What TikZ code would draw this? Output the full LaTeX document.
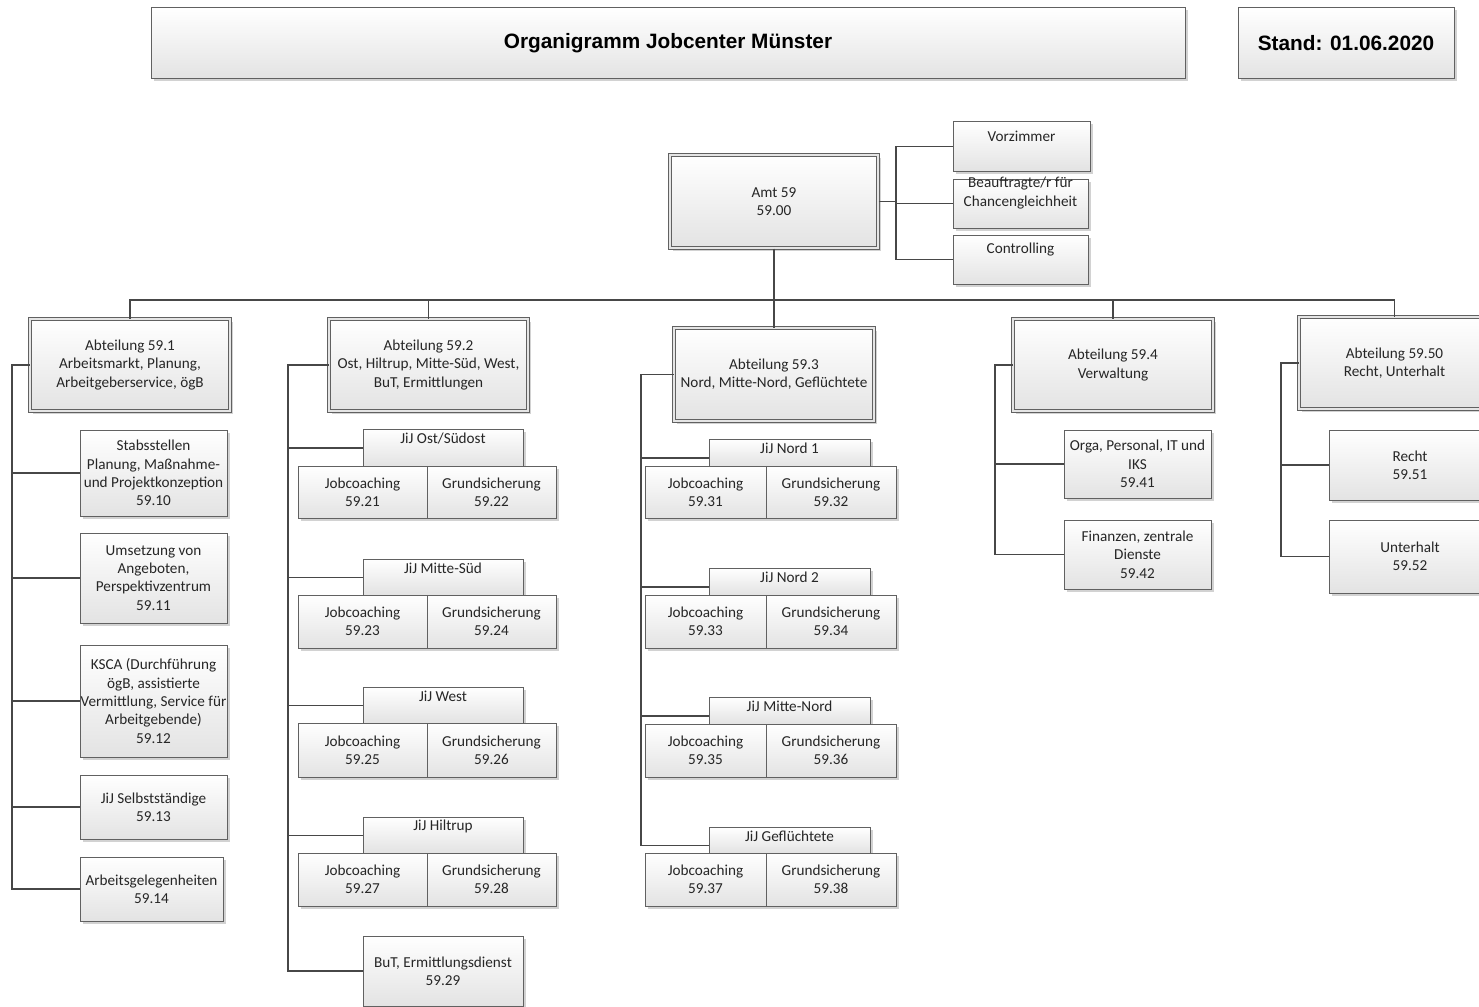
\documentclass[tikz,border=0pt]{standalone}
\usepackage{fontspec}
\setmainfont{Carlito}
\newfontfamily\titlefont{Liberation Sans}
\usetikzlibrary{shadows}
\tikzset{
  bx/.style={draw=black!62, line width=1pt, top color=white, bottom color=black!11,
    inner sep=0pt, align=center, text=black!85, font=\fontsize{15.2}{18.3}\selectfont,
    drop shadow={shadow xshift=2.5pt, shadow yshift=-2.5pt, fill=black!22, opacity=0.8}},
  dbx/.style={bx, double=black!10, double distance=2.6pt, line width=1pt},
  ttl/.style={bx, font=\titlefont\bfseries\fontsize{20.8}{24}\selectfont, text=black},
  txt/.style={inner sep=0pt, align=center, text=black!85, font=\fontsize{15.2}{18.3}\selectfont},
  conn/.style={draw=black!72, line width=1.5pt}
}
% box from (x1,y1) to (x2,y2)
\newcommand\obox[7][bx]{\node[#1, minimum width={#5-#3}, minimum height={#6-#4}] (#2) at ({(#3+#5)/2},{(#4+#6)/2}) {#7};}
\begin{document}
\begin{tikzpicture}[x=1pt,y=-1pt]
\clip (0,0) rectangle (1479,1006);
\fill[white] (0,0) rectangle (1479,1006);

% header
\obox[ttl]{title}{151}{8}{1185}{79}{Organigramm Jobcenter Münster}
\obox[ttl]{stand}{1238}{8}{1454}{79}{Stand: 01.06.2020}

% Amt
\obox[dbx]{amt}{670}{155}{878}{248}{Amt 59\\59.00}
\obox{vor}{953}{122}{1090}{171}{}
\node[txt] at ([yshift=-15pt]vor.north) {Vorzimmer};
\obox{bea}{953}{179}{1088}{228}{}
\node[txt] at ([yshift=-14.5pt]bea.north) {Beauftragte/r für\\Chancengleichheit};
\obox{con}{953}{235}{1088}{284}{}
\node[txt] at ([yshift=-15pt]con.north) {Controlling};

% Abteilungen
\obox[dbx]{a1}{30}{319}{230}{411}{Abteilung 59.1\\Arbeitsmarkt, Planung,\\Arbeitgeberservice, ögB}
\obox[dbx]{a2}{329}{319}{528}{411}{Abteilung 59.2\\Ost, Hiltrup, Mitte-Süd, West,\\BuT, Ermittlungen}
\obox[dbx]{a3}{674}{328}{874}{421}{Abteilung 59.3\\Nord, Mitte-Nord, Geflüchtete}
\obox[dbx]{a4}{1013}{319}{1213}{411}{Abteilung 59.4\\Verwaltung}
\obox[dbx]{a50}{1299}{317}{1490}{409}{Abteilung 59.50\\Recht, Unterhalt}

% 59.1
\obox{s10}{80}{430}{227}{516}{Stabsstellen\\Planung, Maßnahme-\\und Projektkonzeption\\59.10}
\obox{s11}{80}{533}{227}{623}{Umsetzung von\\Angeboten,\\Perspektivzentrum\\59.11}
\obox{s12}{80}{645}{227}{757}{KSCA (Durchführung\\ögB, assistierte\\Vermittlung, Service für\\Arbeitgebende)\\59.12}
\obox{s13}{80}{775}{227}{839}{JiJ Selbstständige\\59.13}
\obox{s14}{80}{857}{223}{921}{Arbeitsgelegenheiten\\59.14}

% 59.2
\obox{g21}{363}{429}{523}{466}{}
\node[txt] at ([yshift=-10pt]g21.north) {JiJ Ost/Südost};
\obox{j21}{298}{466}{427}{518}{Jobcoaching\\59.21}
\obox{j22}{427}{466}{556}{518}{Grundsicherung\\59.22}

\obox{g23}{363}{559}{523}{595}{}
\node[txt] at ([yshift=-10pt]g23.north) {JiJ Mitte-Süd};
\obox{j23}{298}{595}{427}{648}{Jobcoaching\\59.23}
\obox{j24}{427}{595}{556}{648}{Grundsicherung\\59.24}

\obox{g25}{363}{687}{523}{723}{}
\node[txt] at ([yshift=-10pt]g25.north) {JiJ West};
\obox{j25}{298}{723}{427}{777}{Jobcoaching\\59.25}
\obox{j26}{427}{723}{556}{777}{Grundsicherung\\59.26}

\obox{g27}{363}{817}{523}{853}{}
\node[txt] at ([yshift=-10pt]g27.north) {JiJ Hiltrup};
\obox{j27}{298}{853}{427}{906}{Jobcoaching\\59.27}
\obox{j28}{427}{853}{556}{906}{Grundsicherung\\59.28}

\obox{but}{363}{936}{523}{1006}{BuT, Ermittlungsdienst\\59.29}

% 59.3
\obox{g31}{709}{439}{870}{466}{}
\node[txt] at ([yshift=-10pt]g31.north) {JiJ Nord 1};
\obox{j31}{645}{466}{766}{518}{Jobcoaching\\59.31}
\obox{j32}{766}{466}{896}{518}{Grundsicherung\\59.32}

\obox{g33}{709}{568}{870}{595}{}
\node[txt] at ([yshift=-10pt]g33.north) {JiJ Nord 2};
\obox{j33}{645}{595}{766}{648}{Jobcoaching\\59.33}
\obox{j34}{766}{595}{896}{648}{Grundsicherung\\59.34}

\obox{g35}{709}{697}{870}{724}{}
\node[txt] at ([yshift=-10pt]g35.north) {JiJ Mitte-Nord};
\obox{j35}{645}{724}{766}{777}{Jobcoaching\\59.35}
\obox{j36}{766}{724}{896}{777}{Grundsicherung\\59.36}

\obox{g37}{709}{827}{870}{853}{}
\node[txt] at ([yshift=-10pt]g37.north) {JiJ Geflüchtete};
\obox{j37}{645}{853}{766}{906}{Jobcoaching\\59.37}
\obox{j38}{766}{853}{896}{906}{Grundsicherung\\59.38}

% 59.4
\obox{s41}{1064}{430}{1211}{498}{Orga, Personal, IT und\\IKS\\59.41}
\obox{s42}{1064}{520}{1211}{589}{Finanzen, zentrale\\Dienste\\59.42}

% 59.50
\obox{s51}{1329}{430}{1491}{500}{Recht\\59.51}
\obox{s52}{1329}{520}{1491}{593}{Unterhalt\\59.52}

% ---- connectors ----
\coordinate (aj) at (896,201);
\draw[conn] (amt.east) -- (amt.east -| aj);
\draw[conn] (vor.west) -| (aj) |- (con.west);
\draw[conn] (bea.west) -- (bea.west -| aj);

\coordinate (bus) at (774,300);
\draw[conn] (amt.south) -- (a3.north);
\draw[conn] (a1.north) |- (bus) -| (a50.north);
\draw[conn] (a2.north) -- (a2.north |- bus);
\draw[conn] (a4.north) -- (a4.north |- bus);

\coordinate (v1) at (12,0);
\draw[conn] (a1.west) -| (v1 |- s14.west) -- (s14.west);
\foreach \c in {s10,s11,s12,s13} \draw[conn] (\c.west) -- (\c.west -| v1);

\coordinate (v2) at (288,0);
\draw[conn] (a2.west) -| (v2 |- but.west) -- (but.west);
\foreach \c in {g21,g23,g25,g27} \draw[conn] ([yshift=-0.5pt]\c.west) -- ([yshift=-0.5pt]\c.west -| v2);

\coordinate (v3) at (641,0);
\coordinate (e37) at ([yshift=-5.5pt]g37.west);
\draw[conn] (a3.west) -| (v3 |- e37) -- (e37);
\foreach \c in {g31,g33,g35} \draw[conn] ([yshift=-5.5pt]\c.west) -- ([yshift=-5.5pt]\c.west -| v3);

\coordinate (v4) at (995,0);
\draw[conn] (a4.west) -| (v4 |- s42.west) -- (s42.west);
\draw[conn] (s41.west) -- (s41.west -| v4);

\coordinate (v5) at (1281,0);
\draw[conn] (a50.west) -| (v5 |- s52.west) -- (s52.west);
\draw[conn] (s51.west) -- (s51.west -| v5);
\end{tikzpicture}
\end{document}
